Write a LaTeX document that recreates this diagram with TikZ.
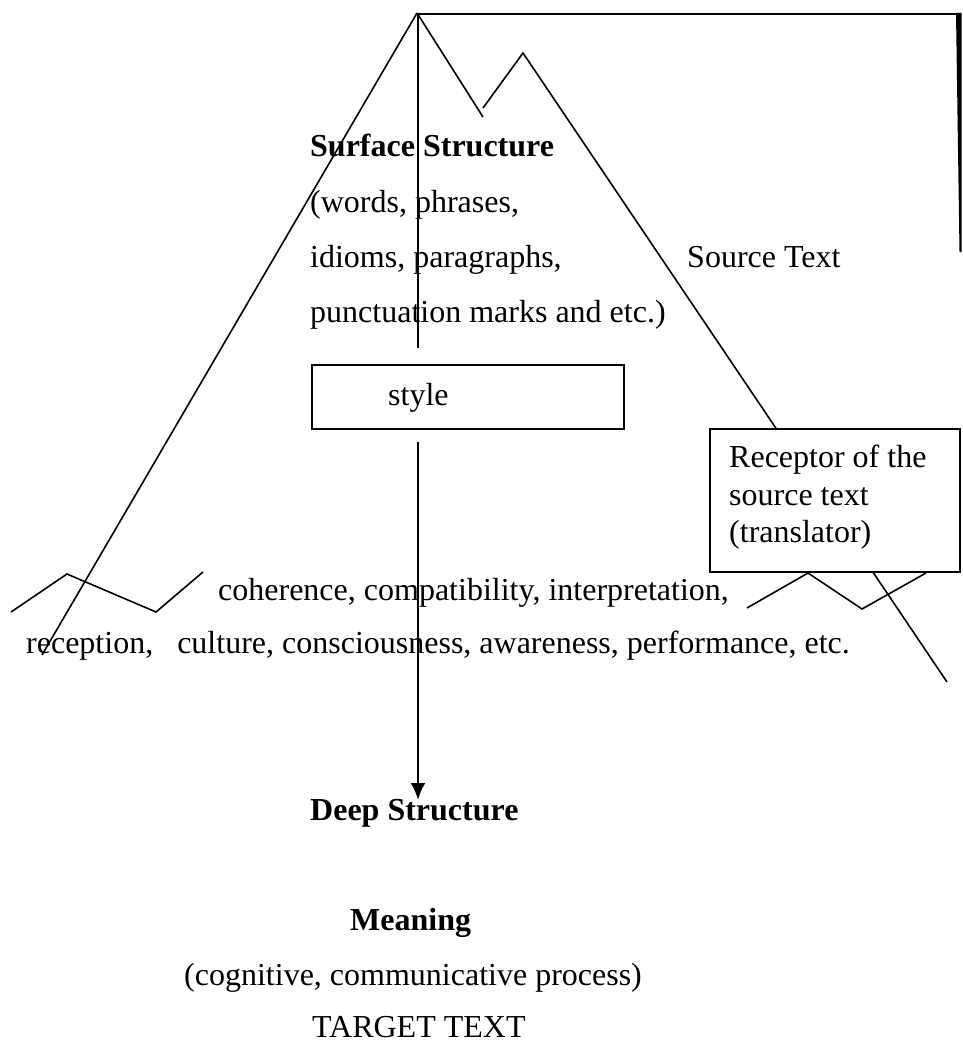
\documentclass[tikz,border=0pt]{standalone}
\usepackage{fontspec}
\setmainfont{Liberation Serif}
\usetikzlibrary{arrows.meta}
\begin{document}
\begin{tikzpicture}[x=1pt,y=-1pt,
  edgeline/.style={line width=1.6pt, line join=miter, line cap=butt},
  frameline/.style={line width=2.2pt},
  axisline/.style={line width=2.6pt},
  boxed/.style={draw, line width=2pt, inner sep=0pt, anchor=north west},
  txt/.style={anchor=base west, inner sep=0pt, font=\fontsize{32}{37}\selectfont},
  btxt/.style={anchor=base west, inner sep=0pt, font=\fontsize{32}{37}\selectfont\bfseries}]
\useasboundingbox (0,0) rectangle (962,1043);

% mountain outline
\coordinate (apex) at (417,13);
\coordinate (leftfoot) at (42,655);
\coordinate (dip) at (483,117);
\coordinate (dipb) at (483,108);
\coordinate (peak) at (523,53);
\coordinate (rightfoot) at (947,682);
\draw[edgeline] (apex) -- (leftfoot);
\draw[edgeline] (apex) -- (dip);
\draw[edgeline] (dipb) -- (peak) -- (rightfoot);

% zigzags
\draw[edgeline] (11,612) -- (67,574) -- (156,612) -- (203,572);
\draw[edgeline] (747,608) -- (808,573) -- (862,609) -- (926,573);

% frame top and right
\coordinate (topl) at (418,14);
\coordinate (topr) at (958,14);
\draw[frameline] (topl) -- (topr);
\fill (956,13) -- (961.5,13) -- (961.5,252) -- (959.5,252) -- cycle;

% boxes
\node[boxed, minimum width=312pt, minimum height=64pt] (stylebox) at (311,364) {};
\node[txt] (styletxt) at (388,405) {style};
\node[boxed, fill=white, minimum width=250pt, minimum height=143pt] (recbox) at (709,428) {};
\node[txt] (rec1) at (729,467) {Receptor of the};
\node[txt] (rec2) at (729,505) {source text};
\node[txt] (rec3) at (729,542) {(translator)};

% vertical axis
\coordinate (axtop) at (418,14);
\coordinate (axstop) at (418,348);
\coordinate (axstart) at (418,442);
\coordinate (axtip) at (418,800);
\draw[axisline] (axtop) -- (axstop);
\draw[axisline, -{Latex[length=17pt,width=15pt]}] (axstart) -- (axtip);

% texts
\node[btxt] (surface) at (310,157) {Surface Structure};
\node[txt] (words) at (310,212) {(words, phrases,};
\node[txt] (idioms) at (310,267) {idioms, paragraphs,};
\node[txt] (punct) at (310,322) {punctuation marks and etc.)};
\node[txt] (source) at (687,267) {Source Text};
\node[txt] (coh) at (218,600) {coherence, compatibility, interpretation,};
\node[txt] (recep) at (26,653) {reception,~~~culture, consciousness, awareness, performance, etc.};
\node[btxt] (deep) at (310,820) {Deep Structure};
\node[btxt] (meaning) at (350,930) {Meaning};
\node[txt] (cog) at (184,985) {(cognitive, communicative process)};
\node[txt] (target) at (312,1037) {TARGET TEXT};
\end{tikzpicture}
\end{document}
